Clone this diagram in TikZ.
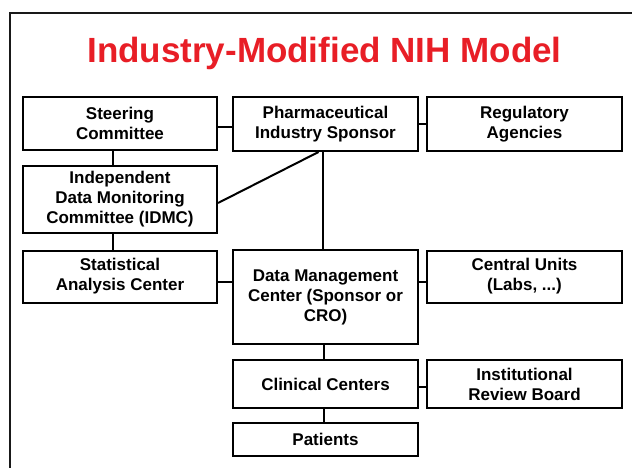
\documentclass[tikz,border=0pt]{standalone}
\usepackage{fontspec}
\setmainfont{Liberation Sans}
\definecolor{titlered}{RGB}{232,30,38}
\begin{document}
\begin{tikzpicture}[x=1pt,y=-1pt,
  box/.style={draw=black, line width=2pt, inner sep=0pt, align=center,
    font=\fontsize{17}{20}\selectfont\bfseries},
  link/.style={draw=black, line width=2pt},
  frame/.style={draw=black!90, line width=2pt}]
\useasboundingbox (0,0) rectangle (632,467);
\coordinate (ftop) at (10,13);
\coordinate (fright) at (633,13);
\coordinate (fbottom) at (10,468);
\draw[frame] (fbottom) -- (ftop) -- (fright);
\node[anchor=base, text=titlered, font=\fontsize{35}{40}\selectfont\bfseries] (title) at (324.5,62) {Industry-Modified NIH Model};
\node[box, minimum width=194pt, minimum height=53pt] (steer) at (120,123.5) {Steering\\Committee};
\node[box, minimum width=185pt, minimum height=54pt] (pharma) at (325.5,124) {Pharmaceutical\\Industry Sponsor};
\node[box, minimum width=195pt, minimum height=54pt] (reg) at (524.5,124) {Regulatory\\Agencies};
\node[box, minimum width=194pt, minimum height=67pt] (idmc) at (120,199.5) {Independent\\Data Monitoring\\Committee (IDMC)};
\node[box, minimum width=194pt, minimum height=52pt] (stat) at (120,276.5) {Statistical\\Analysis Center};
\node[box, minimum width=185pt, minimum height=94pt] (dmc) at (325.5,297) {Data Management\\Center (Sponsor or\\CRO)};
\node[box, minimum width=195pt, minimum height=52pt] (central) at (524.5,276.5) {Central Units\\(Labs, ...)};
\node[box, minimum width=185pt, minimum height=48pt] (clin) at (325.5,384) {Clinical Centers};
\node[box, minimum width=195pt, minimum height=48pt] (irb) at (524.5,384) {Institutional\\Review Board};
\node[box, minimum width=185pt, minimum height=33pt] (pat) at (325.5,439) {Patients};
% connectors
\draw[link] ([yshift=-3pt]steer.east) -- ([yshift=-3pt]steer.east -| pharma.west);
\draw[link] (pharma.east) -- (reg.west);
\draw[link] ([xshift=-7pt]steer.south) -- ([xshift=-7pt]idmc.north);
\draw[link] ([xshift=-7pt]idmc.south) -- ([xshift=-7pt]stat.north);
\draw[link] ([xshift=-7pt]pharma.south) -- ([yshift=-3.5pt]idmc.east);
\draw[link] ([xshift=-2.5pt]pharma.south) -- ([xshift=-2.5pt]dmc.north);
\draw[link] ([yshift=-5pt]stat.east) -- ([yshift=-5pt]stat.east -| dmc.west);
\draw[link] ([yshift=-5pt]central.west -| dmc.east) -- ([yshift=-5pt]central.west);
\draw[link] ([xshift=-2pt]dmc.south) -- ([xshift=-2pt]clin.north);
\draw[link] ([yshift=-2.5pt]clin.east) -- ([yshift=-2.5pt]clin.east -| irb.west);
\draw[link] ([xshift=-2pt]clin.south) -- ([xshift=-2pt]pat.north);
\end{tikzpicture}
\end{document}
